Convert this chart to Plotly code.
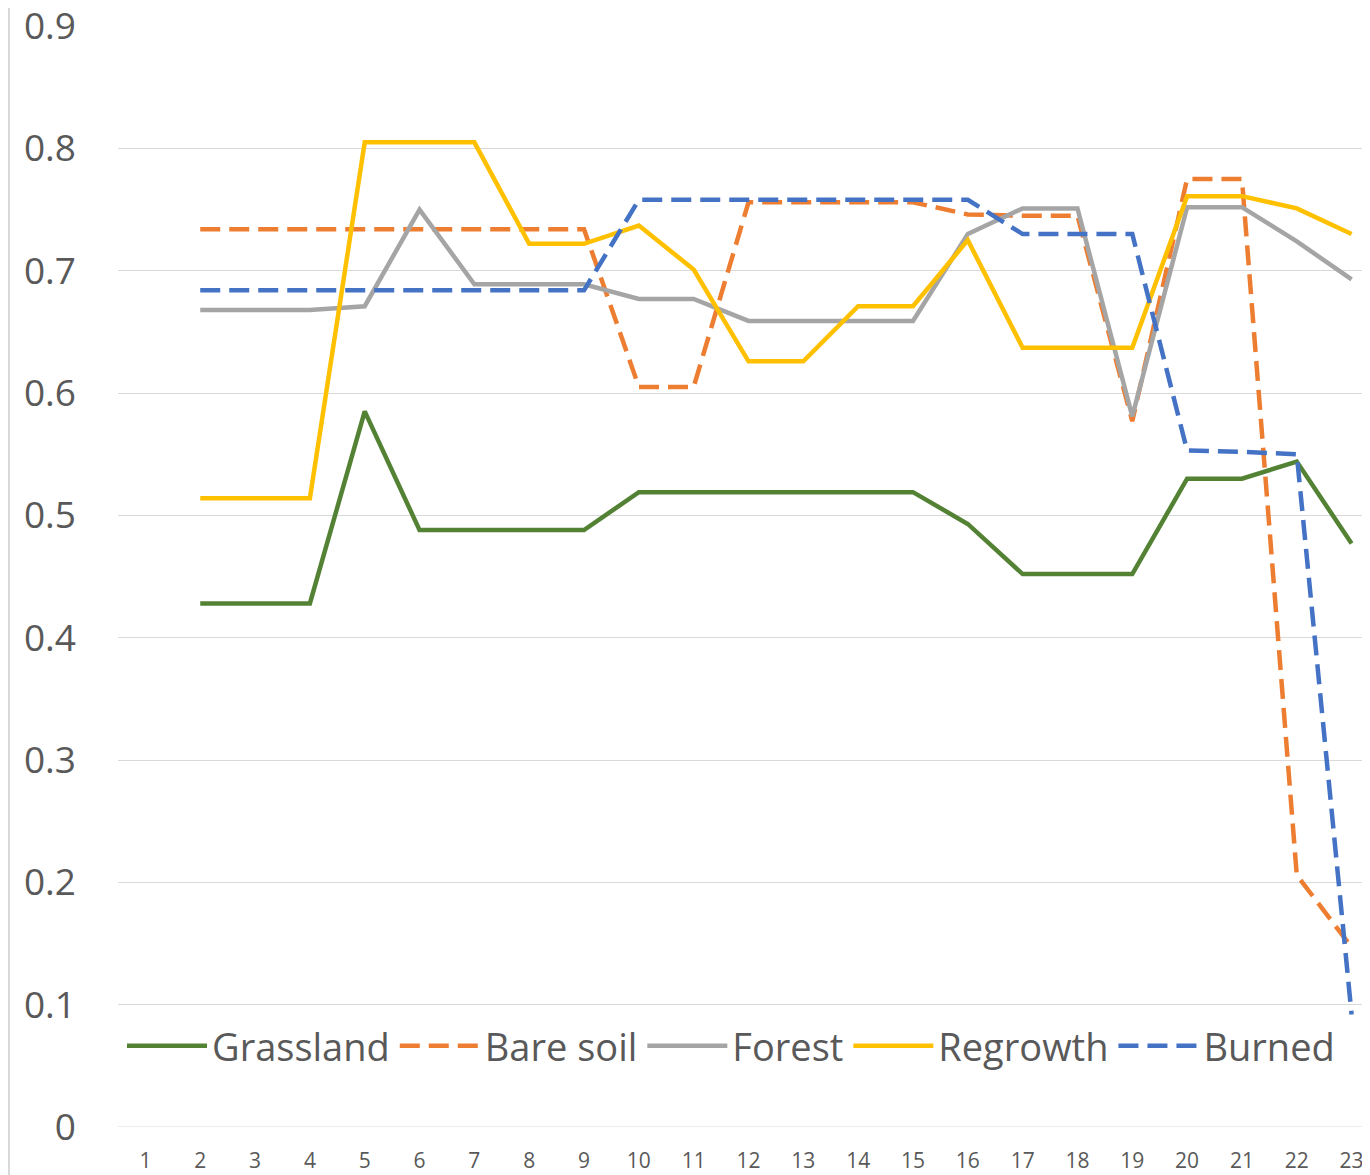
import plotly.graph_objects as go

categories = list(range(1, 24))
x_pts = list(range(2, 24))

grassland = [0.428, 0.428, 0.428, 0.585, 0.488, 0.488, 0.488, 0.488, 0.519, 0.519, 0.519, 0.519,
             0.519, 0.519, 0.493, 0.452, 0.452, 0.452, 0.530, 0.530, 0.544, 0.477]
bare_soil = [0.734, 0.734, 0.734, 0.734, 0.734, 0.734, 0.734, 0.734, 0.605, 0.605, 0.756, 0.756,
             0.756, 0.756, 0.746, 0.745, 0.745, 0.577, 0.775, 0.775, 0.206, 0.147]
forest = [0.668, 0.668, 0.668, 0.671, 0.750, 0.689, 0.689, 0.689, 0.677, 0.677, 0.659, 0.659,
          0.659, 0.659, 0.730, 0.751, 0.751, 0.581, 0.752, 0.752, 0.724, 0.693]
regrowth = [0.514, 0.514, 0.514, 0.805, 0.805, 0.805, 0.722, 0.722, 0.737, 0.701, 0.626, 0.626,
            0.671, 0.671, 0.725, 0.637, 0.637, 0.637, 0.761, 0.761, 0.751, 0.730]
burned = [0.684, 0.684, 0.684, 0.684, 0.684, 0.684, 0.684, 0.684, 0.758, 0.758, 0.758, 0.758,
          0.758, 0.758, 0.758, 0.730, 0.730, 0.730, 0.553, 0.552, 0.550, 0.092]
y_ticks = [0, 0.1, 0.2, 0.3, 0.4, 0.5, 0.6, 0.7, 0.8, 0.9]
y_tick_text = ["0", "0.1", "0.2", "0.3", "0.4", "0.5", "0.6", "0.7", "0.8", "0.9"]

series = [
    ("Grassland", grassland, "#548235", "solid"),
    ("Bare soil", bare_soil, "#ED7D31", "20px,9px"),
    ("Forest", forest, "#A5A5A5", "solid"),
    ("Regrowth", regrowth, "#FFC000", "solid"),
    ("Burned", burned, "#4472C4", "20px,9px"),
]

fig = go.Figure()
for name, vals, color, dash in series:
    fig.add_trace(go.Scatter(
        x=x_pts, y=vals, name=name, mode="lines",
        line=dict(color=color, width=4.5, dash=dash),
    ))

font_fam = "Open Sans, Liberation Sans, Arial, sans-serif"
# page is offset by the default 8px body margin
ML, MT, MB = 110, 18, 48
PW, PH = 1261, 1101
W, H = ML + PW, MT + PH + MB

fig.update_layout(
    width=W, height=H,
    margin=dict(l=ML, r=0, t=MT, b=MB),
    paper_bgcolor="white", plot_bgcolor="white",
    font=dict(family=font_fam, color="#595959"),
    showlegend=True,
    legend=dict(
        orientation="h", x=(731 - 118) / PW, xanchor="center",
        y=(1127 - 1046) / PH, yanchor="middle",
        font=dict(size=38, color="#595959", family=font_fam),
        itemwidth=80, bgcolor="rgba(0,0,0,0)", traceorder="normal",
    ),
    xaxis=dict(
        tickmode="array", tickvals=categories, ticktext=[str(c) for c in categories],
        range=[0.5, 23.5], showgrid=False, zeroline=False, showline=False,
        tickfont=dict(size=21, color="#595959", family="Liberation Sans Narrow, Open Sans, sans-serif"),
        ticks="", automargin=False, ticklabelstandoff=19,
    ),
    yaxis=dict(
        range=[0, 0.9001], tickmode="array", tickvals=y_ticks, ticktext=y_tick_text,
        showgrid=True, gridcolor="#D9D9D9", gridwidth=1, zeroline=False, showline=False,
        tickfont=dict(size=37, color="#595959"), ticks="", ticklabelstandoff=41,
        automargin=False, ticklabeloverflow="allow",
    ),
)

fig.add_shape(type="line", xref="paper", yref="paper",
              x0=-(ML - 1) / PW, x1=-(ML - 1) / PW, y0=-MB / PH, y1=1 + MT / PH,
              line=dict(color="#D9D9D9", width=2))
fig.add_shape(type="line", xref="x", yref="y", x0=0.5, x1=23.5, y0=0, y1=0,
              line=dict(color="#D9D9D9", width=1), layer="below")

fig.write_html("out.html")
